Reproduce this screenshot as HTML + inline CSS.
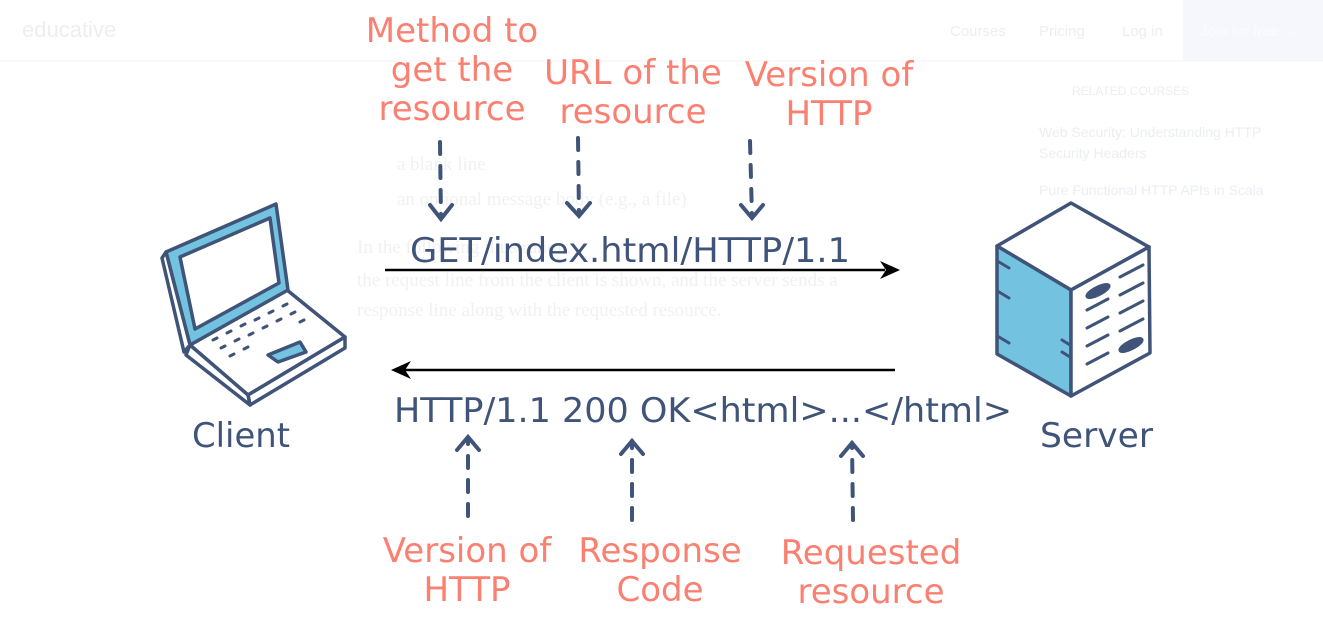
<!DOCTYPE html>
<html><head><meta charset="utf-8"><style>
html,body{margin:0;padding:0;background:#fff;}
svg{display:block;}
</style></head><body>
<svg width="1323" height="617" viewBox="0 0 1323 617" xmlns="http://www.w3.org/2000/svg" font-family="'DejaVu Sans','Liberation Sans',sans-serif">
<g fill="#eceef4" font-size="16" font-family="'Liberation Sans',sans-serif">
<rect x="1183" y="0" width="140" height="61" fill="#f6f7fd"/>
<text x="22" y="37" font-size="22">educative</text>
<text x="950" y="36" font-size="15">Courses</text>
<text x="1039" y="36" font-size="15">Pricing</text>
<text x="1122" y="36" font-size="15">Log in</text>
<text x="1200" y="36" font-size="15" fill="#fafbff">Join for free →</text>
<text x="1072" y="95" font-size="12">RELATED COURSES</text>
<text x="1039" y="137" font-size="14">Web Security: Understanding HTTP</text>
<text x="1039" y="158" font-size="14">Security Headers</text>
<text x="1039" y="195" font-size="14">Pure Functional HTTP APIs in Scala</text>
</g>
<g fill="#f1f1f1" font-size="19" font-family="'Liberation Serif',serif">
<text x="397" y="170">a blank line</text>
<text x="397" y="205">an optional message body (e.g., a file)</text>
<text x="357" y="253">In the following illustration,</text>
<text x="357" y="286">the request line from the client is shown, and the server sends a</text>
<text x="357" y="316">response line along with the requested resource.</text>
</g>
<line x1="0" y1="61" x2="1323" y2="61" stroke="#f4f4f6"/>

<g fill="#fa8072" font-size="34" text-anchor="middle">
<text x="452" y="42">Method to</text>
<text x="452" y="81">get the</text>
<text x="452" y="120">resource</text>
<text x="633" y="84">URL of the</text>
<text x="633" y="123">resource</text>
<text x="829" y="86">Version of</text>
<text x="829" y="125">HTTP</text>
<text x="467" y="562">Version of</text>
<text x="467" y="601">HTTP</text>
<text x="660" y="562">Response</text>
<text x="660" y="601">Code</text>
<text x="871" y="564">Requested</text>
<text x="871" y="603">resource</text>
</g>

<g stroke="#3f5478" stroke-width="4" stroke-linecap="round" fill="none">
<line x1="440" y1="142" x2="441" y2="218" stroke-dasharray="12,12"/>
<polyline points="430,205 441,219 452,205"/>
<line x1="578" y1="138" x2="579" y2="215" stroke-dasharray="12,12"/>
<polyline points="567,203 579,216 590,203"/>
<line x1="750" y1="141" x2="752" y2="217" stroke-dasharray="12,12"/>
<polyline points="741,205 752,218 763,205"/>
<line x1="468" y1="516" x2="468" y2="438" stroke-dasharray="12,12"/>
<polyline points="457,450 468,437 479,450"/>
<line x1="632" y1="520" x2="632" y2="441" stroke-dasharray="12,12"/>
<polyline points="621,454 632,441 643,454"/>
<line x1="853" y1="520" x2="852" y2="443" stroke-dasharray="12,12"/>
<polyline points="841,456 852,443 863,456"/>
</g>

<line x1="385" y1="270" x2="885" y2="270" stroke="#000" stroke-width="2.5"/>
<polygon points="900,270 880,261 886,270 880,279" fill="#000"/>
<line x1="895" y1="370" x2="405" y2="370" stroke="#000" stroke-width="2.5"/>
<polygon points="391,370 411,361 405,370 411,379" fill="#000"/>

<g fill="#3f5478" font-size="34">
<text x="410" y="262" textLength="440" lengthAdjust="spacingAndGlyphs">GET/index.html/HTTP/1.1</text>
<text x="394" y="422" textLength="618" lengthAdjust="spacingAndGlyphs">HTTP/1.1 200 OK&lt;html&gt;...&lt;/html&gt;</text>
<text x="192" y="447" textLength="98" lengthAdjust="spacingAndGlyphs">Client</text>
<text x="1040" y="447" textLength="113" lengthAdjust="spacingAndGlyphs">Server</text>
</g>

<g stroke="#3f5478" stroke-width="3.5" stroke-linejoin="round" fill="none">
<polygon points="190,345 287,290 345,337 248,395" fill="#fff"/>
<polygon points="248,395 345,337 345,348 250,405" fill="#fff"/>
<polygon points="190,345 248,395 250,405 186,355" fill="#fff"/>
<polygon points="166,252 276,204 288,290 190,345" fill="#73c2e0"/>
<polygon points="180,257 270,218 279,283 195,329" fill="#fff"/>
<polygon points="162,258 166,252 190,345 184,352" fill="#fff"/>
<polygon points="268,355 300,342 306,352 278,362" fill="#73c2e0"/>
<g stroke-width="3" stroke-linecap="round">
<line x1="213" y1="340" x2="217" y2="338"/><line x1="227" y1="333" x2="231" y2="331"/><line x1="241" y1="326" x2="245" y2="324"/><line x1="255" y1="320" x2="259" y2="318"/><line x1="269" y1="313" x2="273" y2="311"/><line x1="283" y1="306" x2="287" y2="304"/>
<line x1="221" y1="348" x2="225" y2="346"/><line x1="235" y1="341" x2="239" y2="339"/><line x1="249" y1="335" x2="253" y2="333"/><line x1="263" y1="328" x2="267" y2="326"/><line x1="277" y1="321" x2="281" y2="319"/><line x1="291" y1="314" x2="295" y2="312"/>
<line x1="230" y1="356" x2="234" y2="354"/><line x1="244" y1="349" x2="248" y2="347"/><line x1="300" y1="322" x2="304" y2="320"/>
</g>
</g>

<g stroke="#3f5478" stroke-width="3.5" stroke-linejoin="round" fill="none">
<polygon points="1071,203 1149,247 1071,290 997,246" fill="#fff"/>
<polygon points="997,246 1071,290 1071,396 997,354" fill="#73c2e0"/>
<polygon points="1071,290 1149,247 1150,353 1071,396" fill="#fff"/>
<g stroke-width="3" stroke-linecap="round">
<line x1="999" y1="262" x2="1009" y2="268"/><line x1="999" y1="292" x2="1009" y2="298"/><line x1="999" y1="337" x2="1009" y2="343"/>
<line x1="1062" y1="340" x2="1070" y2="345"/><line x1="1062" y1="352" x2="1070" y2="357"/>
<line x1="1120" y1="277" x2="1143" y2="265"/><line x1="1120" y1="295" x2="1143" y2="283"/><line x1="1120" y1="313" x2="1143" y2="301"/><line x1="1120" y1="331" x2="1143" y2="319"/>
<line x1="1087" y1="310" x2="1108" y2="299"/><line x1="1087" y1="328" x2="1108" y2="317"/><line x1="1087" y1="346" x2="1108" y2="335"/><line x1="1087" y1="364" x2="1108" y2="353"/>
</g>
<ellipse cx="1098" cy="291" rx="12" ry="3.5" transform="rotate(-27 1098 291)" fill="#3f5478"/>
<ellipse cx="1131" cy="345" rx="12" ry="3.5" transform="rotate(-27 1131 345)" fill="#3f5478"/>
</g>
</svg>
</body></html>
